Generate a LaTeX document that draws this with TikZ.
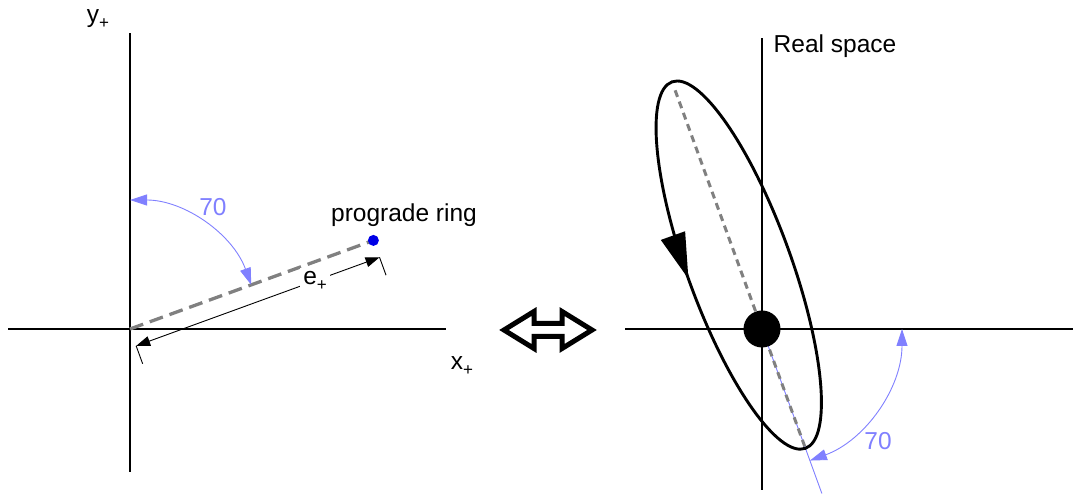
\documentclass[tikz,border=0pt]{standalone}
\usepackage{fontspec}
\setmainfont{Liberation Sans}
\usetikzlibrary{arrows.meta,calc,decorations.markings}
\definecolor{arcblue}{RGB}{128,128,255}
\definecolor{dotblue}{RGB}{0,0,230}
\newcommand{\plussub}{\raisebox{-6pt}{\fontsize{17}{17}\selectfont +}}
\tikzset{
  axisline/.style={line width=2.9pt,black},
  graydash/.style={line width=3.3pt,gray,dash pattern=on 14pt off 7pt},
  graydashr/.style={line width=3pt,gray,dash pattern=on 7pt off 5pt},
  bluethin/.style={line width=0.9pt,arcblue},
  anglearc/.style={bluethin,{Triangle[length=17pt,width=11pt]}-{Triangle[length=17pt,width=11pt]}},
  dimline/.style={line width=0.9pt,black,{Triangle[length=14pt,width=10pt]}-{Triangle[length=14pt,width=10pt]}},
  tick/.style={line width=0.9pt,black},
  lbl/.style={font=\fontsize{24.5}{28}\selectfont,inner sep=1pt},
  bluelbl/.style={lbl,text=arcblue},
  orbit/.style={line width=2.9pt,black,postaction={decorate},
    decoration={markings,mark=at position 0.245 with {\arrow{Triangle[length=46pt,width=25pt]}}}},
}
\begin{document}
\begin{tikzpicture}[x=1pt,y=1pt]
\useasboundingbox (0,0) rectangle (1078,497);
% ---------- left panel ----------
\coordinate (O1) at (130,168);
\coordinate (yTop) at (130,464);
\coordinate (yBot) at (130,25);
\coordinate (xL) at (8,168);
\coordinate (xR) at (446,168);
\draw[axisline] (yBot) -- (yTop);
\draw[axisline] (xL) -- (xR);
\node[lbl] (ylab) at (98,478) {y\plussub};
\node[lbl] (xlab) at (462,131) {x\plussub};
\coordinate (P) at ($(O1)+(20:259)$);
\draw[graydash] (O1) -- (P);
\node[circle,fill=dotblue,inner sep=0pt,minimum size=11pt] (ring) at (P) {};
\node[lbl] (ringlab) at (404,282) {prograde ring};
% dimension
\coordinate (D1) at ($(O1)+(-70:18)$);
\coordinate (D2) at ($(P)+(-70:18)$);
\coordinate (T1) at ($(O1)+(-70:37)$);
\coordinate (T2) at ($(P)+(-70:37)$);
\draw[tick] (D1) -- (T1);
\draw[tick] (D2) -- (T2);
\draw[dimline] (D1) -- node[pos=0.735,lbl,fill=white,inner sep=3pt] (elab) {e\plussub} (D2);
% angle
\coordinate (A1) at ($(O1)+(90:129)$);
\draw[anglearc] (A1) arc[start angle=90,end angle=20,radius=129];
\node[bluelbl] (a1lab) at (213,290) {70};
% ---------- double arrow ----------
\draw[line width=5pt,miter limit=10] (504,167) -- (534,185.5) -- (534,173.5) -- (562,173.5) -- (562,185.5) -- (592,167) -- (562,148.5) -- (562,160.5) -- (534,160.5) -- (534,148.5) -- cycle;
% ---------- right panel ----------
\coordinate (O2) at (762,168);
\coordinate (y2Top) at (762,459);
\coordinate (y2Bot) at (762,7);
\coordinate (x2L) at (625,168);
\coordinate (x2R) at (1073,168);
\draw[axisline] (y2Bot) -- (y2Top);
\draw[axisline] (x2L) -- (x2R);
\node[lbl] (rslab) at (835,451) {Real space};
\coordinate (E) at ($(O2)+(110:68)$);
\coordinate (B) at ($(O2)+(-70:175)$);
\draw[bluethin] (O2) -- (B);
\draw[graydashr] ($(O2)+(-70:125)$) -- ($(O2)+(110:257)$);
\draw[orbit,rotate around={110:(E)}] (E) ellipse[x radius=195pt,y radius=52pt];
\node[circle,fill=black,inner sep=0pt,minimum size=37pt] (origin) at (O2) {};
\coordinate (A2) at ($(O2)+(0:140)$);
\draw[anglearc] (A2) arc[start angle=0,end angle=-70,radius=140];
\node[bluelbl] (a2lab) at (878,56) {70};
\end{tikzpicture}
\end{document}
